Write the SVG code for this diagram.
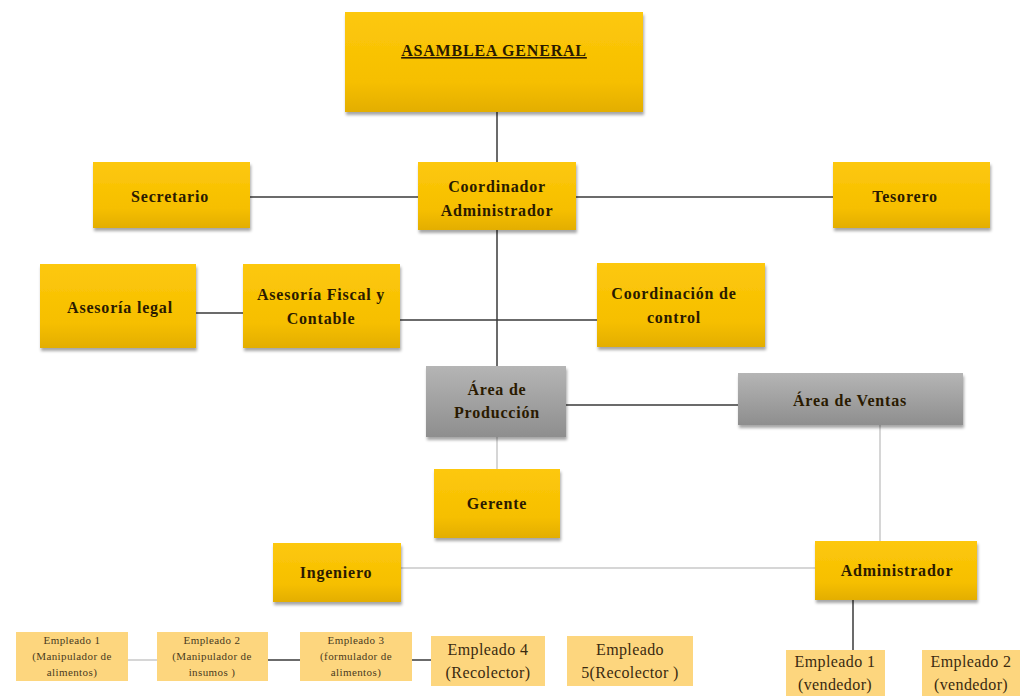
<svg xmlns="http://www.w3.org/2000/svg" width="1023" height="696" viewBox="0 0 1023 696">
<defs>
<linearGradient id="gold" x1="0" y1="0" x2="0" y2="1">
<stop offset="0" stop-color="#fdc80c"/><stop offset="0.7" stop-color="#f6bf00"/><stop offset="1" stop-color="#e3ae00"/>
</linearGradient>
<linearGradient id="gray" x1="0" y1="0" x2="0" y2="1">
<stop offset="0" stop-color="#b5b5b5"/><stop offset="1" stop-color="#8e8e8e"/>
</linearGradient>
<filter id="sh" x="-10%" y="-10%" width="125%" height="135%">
<feDropShadow dx="1" dy="3" stdDeviation="1.5" flood-color="#000" flood-opacity="0.35"/>
</filter>
<style>
.g{fill:url(#gold);filter:url(#sh)}
.gr{fill:url(#gray);filter:url(#sh)}
.lt{fill:#fdd67e}
text{font-family:"Liberation Serif","Times New Roman",serif;font-weight:bold;fill:#2a1a00;text-anchor:middle}
.t{font-size:16px;letter-spacing:0.8px}
.s{font-size:11px;font-weight:normal;fill:#4a3a20;letter-spacing:0.4px}
.m{font-size:16px;font-weight:normal;fill:#3a2a10;letter-spacing:0.4px}
.dk{stroke:#3a3a3a;stroke-width:1.5;fill:none}
.li{stroke:#c8c8c8;stroke-width:1.5;fill:none}
</style>
</defs>
<rect width="1023" height="696" fill="#fff"/>
<g id="connectors">
<line class="dk" x1="497" y1="112" x2="497" y2="163"/>
<line class="dk" x1="250" y1="197" x2="418" y2="197"/>
<line class="dk" x1="576" y1="197" x2="833" y2="197"/>
<line class="dk" x1="497" y1="230" x2="497" y2="367"/>
<line class="dk" x1="196" y1="313" x2="243" y2="313"/>
<line class="dk" x1="400" y1="320" x2="597" y2="320"/>
<line class="dk" x1="566" y1="405" x2="738" y2="405"/>
<line class="li" x1="497" y1="437" x2="497" y2="469"/>
<line class="li" x1="880" y1="425" x2="880" y2="541"/>
<line class="li" x1="401" y1="568" x2="815" y2="568"/>
<line class="dk" x1="853" y1="600" x2="853" y2="650"/>
<line class="li" x1="128" y1="660" x2="157" y2="660"/>
<line class="dk" x1="268" y1="660" x2="300" y2="660"/>
<line class="dk" x1="412" y1="660" x2="431" y2="660"/>
</g>
<g id="asamblea"><rect class="g" x="345" y="12" width="298" height="100"/>
<text class="t" x="494" y="56" text-decoration="underline">ASAMBLEA GENERAL</text></g>
<g id="coordinador"><rect class="g" x="418" y="162" width="158" height="68"/>
<text class="t" x="497" y="192">Coordinador</text><text class="t" x="497" y="216">Administrador</text></g>
<g id="secretario"><rect class="g" x="93" y="162" width="157" height="66"/>
<text class="t" x="170" y="202">Secretario</text></g>
<g id="tesorero"><rect class="g" x="833" y="162" width="157" height="66"/>
<text class="t" x="905" y="202">Tesorero</text></g>
<g id="asesoria-legal"><rect class="g" x="40" y="264" width="156" height="84"/>
<text class="t" x="120" y="313">Asesoría legal</text></g>
<g id="asesoria-fiscal"><rect class="g" x="243" y="264" width="157" height="84"/>
<text class="t" x="321" y="300">Asesoría Fiscal y</text><text class="t" x="321" y="324">Contable</text></g>
<g id="coordinacion-control"><rect class="g" x="597" y="263" width="168" height="84"/>
<text class="t" x="674" y="299">Coordinación  de</text><text class="t" x="674" y="323">control</text></g>
<g id="area-produccion"><rect class="gr" x="426" y="366" width="140" height="71"/>
<text class="t" x="497" y="395">Área de</text><text class="t" x="497" y="418">Producción</text></g>
<g id="area-ventas"><rect class="gr" x="738" y="373" width="225" height="52"/>
<text class="t" x="850" y="406">Área de Ventas</text></g>
<g id="gerente"><rect class="g" x="434" y="469" width="126" height="69"/>
<text class="t" x="497" y="509">Gerente</text></g>
<g id="ingeniero"><rect class="g" x="273" y="543" width="128" height="59"/>
<text class="t" x="336" y="578">Ingeniero</text></g>
<g id="administrador"><rect class="g" x="815" y="541" width="162" height="59"/>
<text class="t" x="897" y="576">Administrador</text></g>
<g id="vendedor1"><rect class="lt" x="786" y="650" width="99" height="46"/>
<text class="m" x="835" y="667">Empleado 1</text><text class="m" x="835" y="690">(vendedor)</text></g>
<g id="vendedor2"><rect class="lt" x="922" y="650" width="98" height="46"/>
<text class="m" x="971" y="667">Empleado 2</text><text class="m" x="971" y="690">(vendedor)</text></g>
<g id="empleado1"><rect class="lt" x="16" y="632" width="112" height="49"/>
<text class="s" x="72" y="644">Empleado 1</text><text class="s" x="72" y="660">(Manipulador de</text><text class="s" x="72" y="676">alimentos)</text></g>
<g id="empleado2"><rect class="lt" x="157" y="632" width="111" height="49"/>
<text class="s" x="212" y="644">Empleado 2</text><text class="s" x="212" y="660">(Manipulador de</text><text class="s" x="212" y="676">insumos )</text></g>
<g id="empleado3"><rect class="lt" x="300" y="632" width="112" height="49"/>
<text class="s" x="356" y="644">Empleado 3</text><text class="s" x="356" y="660">(formulador de</text><text class="s" x="356" y="676">alimentos)</text></g>
<g id="empleado4"><rect class="lt" x="431" y="636" width="114" height="50"/>
<text class="m" x="488" y="655">Empleado 4</text><text class="m" x="488" y="678">(Recolector)</text></g>
<g id="empleado5"><rect class="lt" x="567" y="636" width="126" height="50"/>
<text class="m" x="630" y="655">Empleado</text><text class="m" x="630" y="678">5(Recolector )</text></g>
</svg>
